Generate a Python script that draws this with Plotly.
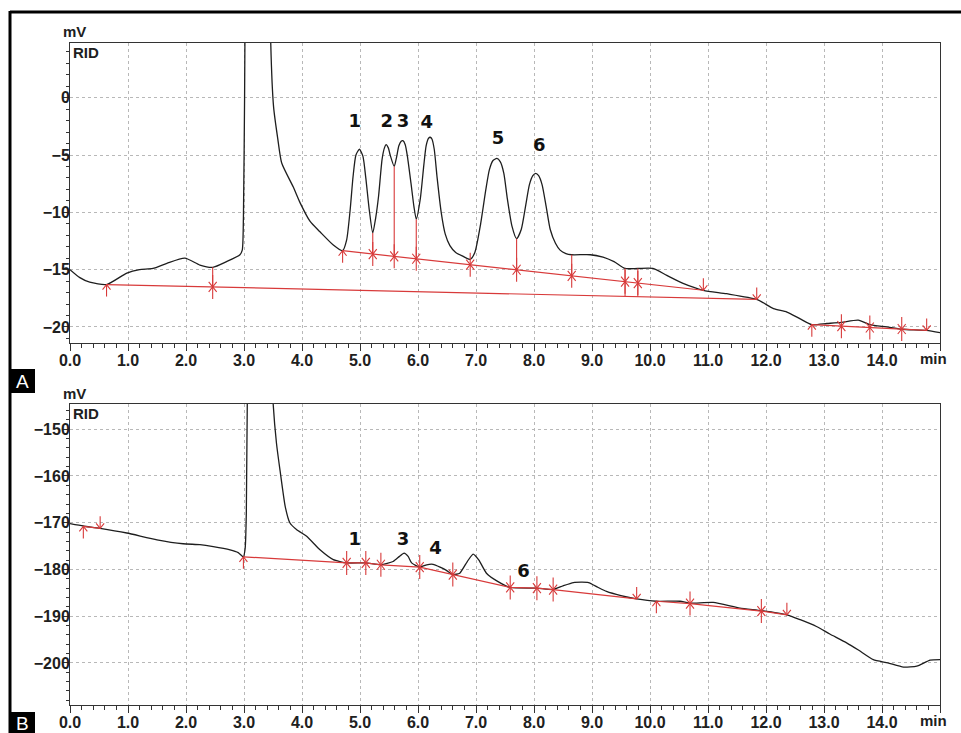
import numpy as np
import plotly.graph_objects as go

# ---------------- DATA ----------------
# Panel A trace (time in min, signal in mV)
a_time = [0.0, 0.17, 0.34, 0.63, 0.98, 1.2, 1.43, 1.67, 1.98, 2.24, 2.46, 2.7, 2.93, 2.97, 2.99, 3.01,
          3.1, 3.25, 3.4, 3.46, 3.51, 3.58, 3.65, 3.85, 3.97, 4.14, 4.31, 4.54, 4.70, 4.77, 4.83, 4.88, 4.93,
          4.99, 5.05, 5.10, 5.16, 5.22, 5.27, 5.32, 5.38, 5.42, 5.45, 5.49, 5.52, 5.59, 5.63, 5.67, 5.71, 5.74,
          5.78, 5.82, 5.88, 5.93, 5.97, 6.04, 6.10, 6.14, 6.18, 6.21, 6.24, 6.28, 6.33, 6.40, 6.47, 6.55, 6.65,
          6.78, 6.90, 6.98, 7.08, 7.17, 7.23, 7.29, 7.36, 7.42, 7.48, 7.54, 7.62, 7.70, 7.78, 7.86, 7.92, 7.98,
          8.03, 8.08, 8.14, 8.21, 8.28, 8.37, 8.45, 8.55, 8.65,
          8.97, 9.19, 9.38, 9.57, 9.79, 10.05, 10.29, 10.57, 10.92, 11.32, 11.84, 12.13, 12.36, 12.59,
          12.79, 13.05, 13.3, 13.59, 13.79, 14.08, 14.34, 14.77, 15.0]
a_signal = [-15.0, -15.7, -16.1, -16.3, -15.3, -15.0, -14.9, -14.45, -14.0, -14.6, -14.8, -14.3, -13.7, -13.3, -10.5, 0.0,
            60.0, 80.0, 40.0, 5.0, -0.8, -3.5, -5.7, -7.8, -9.2, -10.8, -11.7, -12.85, -13.35, -12.4, -9.8, -6.9, -5.0,
            -4.5, -5.1, -7.0, -9.8, -11.8, -10.5, -8.6, -5.4, -4.4, -4.1, -4.4, -5.0, -6.0, -5.2, -4.2, -3.8, -3.75,
            -4.1, -5.2, -7.5, -9.5, -10.6, -8.8, -5.9, -4.2, -3.55, -3.45, -3.6, -4.5, -7.0, -10.0, -11.9, -12.9, -13.5,
            -13.85, -14.1, -13.5, -11.0, -8.0, -6.3, -5.5, -5.3, -5.6, -6.6, -8.8, -11.2, -12.3, -11.5, -9.3, -7.6, -6.8,
            -6.6, -6.8, -7.6, -9.5, -11.5, -12.7, -13.3, -13.6, -13.7,
            -13.7, -13.9, -14.3, -14.9, -14.9, -14.9, -15.5, -16.2, -16.8, -17.1, -17.6, -18.4, -18.7, -19.3,
            -19.8, -19.7, -19.6, -19.4, -19.8, -20.0, -20.2, -20.3, -20.5]

# Panel A baseline events: groups of (time, baseline value, kind)
a_base_lower_t = [0.63, 2.46, 11.84]
a_base_lower_v = [-16.3, -16.51, -17.6]
a_base_lower_k = ["up", "mid", "down"]
a_base_upper_t = [4.70, 5.22, 5.59, 5.97, 6.90, 7.70, 8.65, 9.57, 9.79, 10.92]
a_base_upper_v = [-13.35, -13.64, -13.84, -14.05, -14.57, -15.01, -15.54, -16.05, -16.17, -16.8]
a_base_upper_k = ["up", "mid", "mid", "mid", "mid", "mid", "mid", "mid", "mid", "down"]
a_base_end_t = [12.79, 13.3, 13.79, 14.34, 14.77]
a_base_end_v = [-19.8, -19.93, -20.05, -20.18, -20.3]
a_base_end_k = ["up", "mid", "mid", "mid", "down"]
# Panel A drop lines (time, bottom value)
a_drop_t = [2.46, 5.22, 5.59, 5.97, 7.70, 8.65, 9.57, 9.79]
a_drop_bottom = [-16.51, -13.64, -13.84, -14.05, -15.01, -15.54, -17.3, -17.36]
# Panel A peak labels
a_peak_labels = ["1", "2", "3", "4", "5", "6"]
a_peak_x = [4.91, 5.46, 5.74, 6.15, 7.38, 8.09]
a_peak_y = [-2.18, -2.18, -2.18, -2.29, -3.63, -4.27]

# Panel B trace
b_time = [0.0, 0.23, 0.52, 0.98, 1.5, 1.95, 2.24, 2.47, 2.76, 2.9, 2.99, 3.02, 3.04, 3.06, 3.2, 3.4,
          3.5, 3.56, 3.62, 3.71, 3.79, 3.91, 4.08, 4.31, 4.54, 4.77, 5.10, 5.36, 5.57, 5.68, 5.76, 5.83,
          5.89, 6.03, 6.15, 6.26, 6.38, 6.49, 6.6, 6.72, 6.85, 6.95, 7.05, 7.18, 7.38, 7.59, 8.05, 8.33,
          8.5, 8.68, 8.94, 9.1, 9.25, 9.5, 9.77, 10.11, 10.52, 10.69, 11.09, 11.55, 11.92, 12.36, 12.59,
          12.87, 13.1, 13.39, 13.6, 13.85, 14.1, 14.37, 14.6, 14.83, 15.0]
b_signal = [-170.2, -170.7, -171.2, -172.2, -173.65, -174.5, -174.7, -175.1, -175.8, -176.4, -177.3, -175.5, -168.0, -140.0, -60.0, -110.0,
            -144.0, -153.0, -158.7, -166.5, -170.0, -171.5, -172.9, -175.8, -177.9, -178.6, -178.6, -179.0, -178.3, -177.2, -176.5, -177.2,
            -178.6, -179.5, -179.0, -178.9, -179.5, -180.2, -181.1, -180.8, -178.3, -176.7, -178.0, -180.8, -182.6, -183.85, -184.0, -184.3,
            -183.5, -182.8, -182.8, -183.8, -184.7, -185.6, -186.3, -186.8, -186.8, -187.2, -187.05, -188.25, -188.8, -189.7, -190.75,
            -192.2, -193.8, -195.7, -197.3, -199.3, -200.0, -200.9, -200.7, -199.4, -199.3]

b_base1_t = [0.23, 0.52]
b_base1_v = [-170.8, -171.2]
b_base1_k = ["up", "down"]
b_base2_t = [2.99, 4.77, 5.10, 5.36, 6.03, 6.6, 7.59, 8.05, 8.33, 9.77]
b_base2_v = [-177.3, -178.6, -178.6, -179.0, -179.5, -181.1, -183.85, -184.0, -184.3, -186.3]
b_base2_k = ["up", "mid", "mid", "mid", "mid", "mid", "mid", "mid", "mid", "down"]
b_base3_t = [10.11, 10.69, 11.92, 12.36]
b_base3_v = [-186.8, -187.3, -188.9, -189.7]
b_base3_k = ["up", "mid", "mid", "down"]
b_peak_labels = ["1", "3", "4", "6"]
b_peak_x = [4.91, 5.74, 6.30, 7.82]
b_peak_y = [-173.8, -173.8, -175.7, -180.7]

x_ticks = list(range(0, 16))
x_ticktext = [f"{v:.1f}" for v in range(0, 15)] + [""]
a_yticks = [0, -5, -10, -15, -20]
b_yticks = [-150, -160, -170, -180, -190, -200]

# ---------------- LAYOUT GEOMETRY ----------------
W, H = 961, 733
XR = [0, 15]
AYR = [-21.4, 4.77]
BYR = [-209.0, -144.6]
x_dom = [70 / W, 940 / W]
a_dom = [1 - 343 / H, 1 - 43 / H]
b_dom = [1 - 705 / H, 1 - 404 / H]

BLACK = "#1e1e1e"
RED = "#d83a3a"
GRID = "#b8b8b8"
TICKFONT = dict(family="Liberation Sans, Arial, sans-serif", size=16, color="#202020", weight="bold")

sx = (XR[1] - XR[0]) / ((x_dom[1] - x_dom[0]) * W)  # minutes per px
sy_a = (AYR[1] - AYR[0]) / ((a_dom[1] - a_dom[0]) * H)
sy_b = (BYR[1] - BYR[0]) / ((b_dom[1] - b_dom[0]) * H)


def marker_xy(ts, vs, ks, sy, L=12, hw=4, hh=5):
    xs, ys = [], []
    for t, b, k in zip(ts, vs, ks):
        if k in ("up", "mid"):
            xs += [t, t, None, t - hw * sx, t, t + hw * sx, None]
            ys += [b - L * sy, b, None, b - hh * sy, b, b - hh * sy, None]
        if k in ("down", "mid"):
            xs += [t, t, None, t - hw * sx, t, t + hw * sx, None]
            ys += [b + L * sy, b, None, b + hh * sy, b, b + hh * sy, None]
    return xs, ys


fig = go.Figure()

# ---- Panel A ----
fig.add_trace(go.Scatter(x=a_time, y=a_signal, mode="lines", line=dict(color=BLACK, width=1.3, shape="spline", smoothing=0.6),
                         xaxis="x", yaxis="y", showlegend=False, hoverinfo="skip"))
for ts, vs, ks in [(a_base_lower_t, a_base_lower_v, a_base_lower_k),
                   (a_base_upper_t, a_base_upper_v, a_base_upper_k),
                   (a_base_end_t, a_base_end_v, a_base_end_k)]:
    fig.add_trace(go.Scatter(x=[ts[0], ts[-1]], y=[vs[0], vs[-1]], mode="lines",
                             line=dict(color=RED, width=1.2), xaxis="x", yaxis="y",
                             showlegend=False, hoverinfo="skip"))
    mx, my = marker_xy(ts, vs, ks, sy_a)
    fig.add_trace(go.Scatter(x=mx, y=my, mode="lines", line=dict(color=RED, width=1.1),
                             xaxis="x", yaxis="y", showlegend=False, hoverinfo="skip"))
dx, dy = [], []
for t, bot in zip(a_drop_t, a_drop_bottom):
    top = float(np.interp(t, a_time, a_signal))
    dx += [t, t, None]
    dy += [top, bot, None]
fig.add_trace(go.Scatter(x=dx, y=dy, mode="lines", line=dict(color=RED, width=1.1),
                         xaxis="x", yaxis="y", showlegend=False, hoverinfo="skip"))

# ---- Panel B ----
fig.add_trace(go.Scatter(x=b_time, y=b_signal, mode="lines", line=dict(color=BLACK, width=1.3, shape="spline", smoothing=0.5),
                         xaxis="x2", yaxis="y2", showlegend=False, hoverinfo="skip"))
for ts, vs, ks in [(b_base1_t, b_base1_v, b_base1_k),
                   (b_base2_t, b_base2_v, b_base2_k),
                   (b_base3_t, b_base3_v, b_base3_k)]:
    fig.add_trace(go.Scatter(x=ts, y=vs, mode="lines", line=dict(color=RED, width=1.2),
                             xaxis="x2", yaxis="y2", showlegend=False, hoverinfo="skip"))
    mx, my = marker_xy(ts, vs, ks, sy_b)
    fig.add_trace(go.Scatter(x=mx, y=my, mode="lines", line=dict(color=RED, width=1.1),
                             xaxis="x2", yaxis="y2", showlegend=False, hoverinfo="skip"))

# ---- Peak labels ----
PEAKFONT = dict(family="DejaVu Sans, sans-serif", size=18, color="#111111", weight="bold")
fig.add_trace(go.Scatter(x=a_peak_x, y=a_peak_y, mode="text", text=a_peak_labels,
                         textfont=PEAKFONT, xaxis="x", yaxis="y", showlegend=False, hoverinfo="skip"))
fig.add_trace(go.Scatter(x=b_peak_x, y=b_peak_y, mode="text", text=b_peak_labels,
                         textfont=PEAKFONT, xaxis="x2", yaxis="y2", showlegend=False, hoverinfo="skip"))


def xaxis(anchor):
    return dict(domain=x_dom, range=XR, anchor=anchor, tickvals=x_ticks, ticktext=x_ticktext,
                showline=True, linecolor="#333", linewidth=1, mirror=True, automargin=False,
                ticks="outside", ticklen=7, tickcolor="#333", tickfont=TICKFONT,
                ticklabelstandoff=-4,
                showgrid=True, gridcolor=GRID, griddash="3px,3px", gridwidth=1, zeroline=False,
                minor=dict(dtick=0.2, tick0=0, ticks="outside", ticklen=4, tickcolor="#333", showgrid=False),
                fixedrange=True)


def yaxis(dom, rng, tv, mdt, anchor):
    return dict(domain=dom, range=rng, anchor=anchor, tickvals=tv,
                showline=True, linecolor="#333", linewidth=1, mirror=True, automargin=False,
                ticks="outside", ticklen=6, tickcolor="#333", tickfont=TICKFONT,
                ticklabelstandoff=-10,
                showgrid=True, gridcolor=GRID, griddash="3px,3px", gridwidth=1, zeroline=False,
                minor=dict(dtick=mdt, tick0=0, ticks="outside", ticklen=3, tickcolor="#333", showgrid=False),
                fixedrange=True)


fig.update_layout(
    width=W, height=H, margin=dict(l=0, r=0, t=0, b=0, autoexpand=False),
    paper_bgcolor="white", plot_bgcolor="white",
    xaxis=xaxis("y"), yaxis=yaxis(a_dom, AYR, a_yticks, 1, "x"),
    xaxis2=xaxis("y2"), yaxis2=yaxis(b_dom, BYR, b_yticks, 2, "x2"),
)

LBL = dict(family="Liberation Sans, Arial, sans-serif", size=15, color="#202020", weight="bold")
ann = []
for ytop in (43, 404):
    ann.append(dict(x=74 / W, y=1 - (ytop - 11) / H, xref="paper", yref="paper", text="mV",
                    showarrow=False, font=LBL, xanchor="center", yanchor="middle"))
    ann.append(dict(x=71 / W, y=1 - (ytop + 9) / H, xref="paper", yref="paper", text="RID",
                    showarrow=False, font=LBL, xanchor="left", yanchor="middle"))
for ybot in (343, 705):
    ann.append(dict(x=933 / W, y=1 - (ybot + 15) / H, xref="paper", yref="paper", text="min",
                    showarrow=False, font=LBL, xanchor="center", yanchor="middle"))
ann.append(dict(x=22.5 / W, y=1 - 381 / H, xref="paper", yref="paper", text="A", showarrow=False,
                font=dict(family="Liberation Sans, Arial", size=19, color="white"), xanchor="center", yanchor="middle"))
ann.append(dict(x=22.5 / W, y=1 - 723 / H, xref="paper", yref="paper", text="B", showarrow=False,
                font=dict(family="Liberation Sans, Arial", size=19, color="white"), xanchor="center", yanchor="middle"))
fig.update_layout(annotations=ann)

shapes = [
    dict(type="line", xref="paper", yref="paper", x0=10 / W, x1=1, y0=1 - 12 / H, y1=1 - 12 / H,
         line=dict(color="black", width=3)),
    dict(type="line", xref="paper", yref="paper", x0=10 / W, x1=10 / W, y0=0, y1=1 - 11 / H,
         line=dict(color="black", width=3)),
    dict(type="rect", xref="paper", yref="paper", x0=10 / W, x1=35 / W, y0=1 - 393 / H, y1=1 - 369 / H,
         fillcolor="black", line=dict(width=0), layer="below"),
    dict(type="rect", xref="paper", yref="paper", x0=10 / W, x1=35 / W, y0=0, y1=1 - 712 / H,
         fillcolor="black", line=dict(width=0), layer="below"),
]
fig.update_layout(shapes=shapes)

fig.write_html("out.html", config={"displayModeBar": False},
               post_script="document.body.style.margin='0';document.body.style.overflow='hidden';")
